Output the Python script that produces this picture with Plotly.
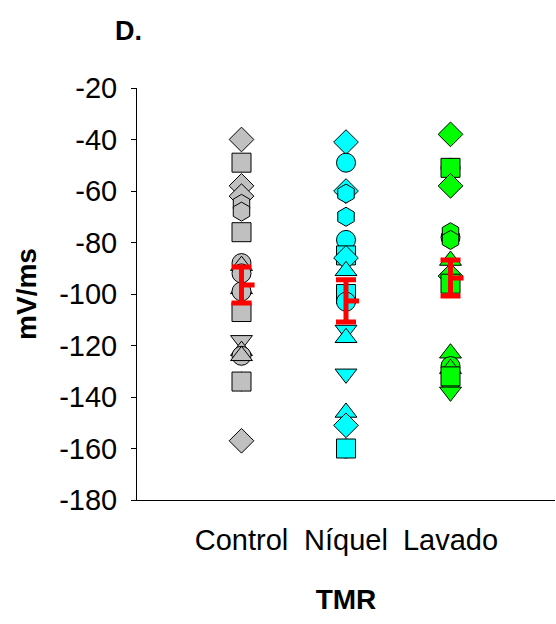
import plotly.graph_objects as go

categories = ["Control", "Níquel", "Lavado"]
cat_x = [1, 2, 3]

control_vals = [-40, -49, -58, -62, -65, -68, -76, -88, -89, -92, -98, -99, -107, -118, -122, -124, -124, -134, -134, -157]
control_syms = ["diamond", "square", "diamond", "diamond", "hexagon", "hexagon", "square", "circle", "triangle-up", "circle",
                "triangle-up", "circle", "square", "triangle-down", "triangle-up", "circle", "triangle-up", "hexagon", "square", "diamond"]

niquel_vals = [-41, -49, -60, -61, -70, -79, -85, -86, -91, -100, -103, -114, -117, -131, -146, -151, -160, -160]
niquel_syms = ["diamond", "circle", "diamond", "hexagon", "hexagon", "circle", "square", "diamond", "triangle-up", "square",
               "circle", "triangle-down", "triangle-up", "triangle-down", "triangle-up", "diamond", "circle", "square"]

lavado_vals = [-38, -51, -51, -58, -78, -76, -79, -87, -93, -96, -123, -128, -129, -135, -132, -138]
lavado_syms = ["diamond", "circle", "square", "diamond", "circle", "hexagon", "hexagon", "triangle-up", "diamond", "square",
               "triangle-up", "circle", "triangle-up", "hexagon", "square", "triangle-down"]

means = [-96.5, -102.7, -93.8]
sems = [7.0, 8.2, 7.0]

colors = ["#C0C0C0", "#00FFFF", "#00FF00"]
groups = [(control_vals, control_syms), (niquel_vals, niquel_syms), (lavado_vals, lavado_syms)]

y_ticks = [-20, -40, -60, -80, -100, -120, -140, -160, -180]
y_ticktext = [str(v) for v in y_ticks]  # plain hyphen-minus as in the original

FONT = "Arial, Liberation Sans, sans-serif"

fig = go.Figure()

for i, (vals, syms) in enumerate(groups):
    fig.add_trace(go.Scatter(
        x=[cat_x[i]] * len(vals), y=vals, mode="markers",
        marker=dict(symbol=syms, size=19, color=colors[i], line=dict(color="black", width=1)),
        showlegend=False, hoverinfo="y"))

# error bars (mean +/- SEM)
fig.add_trace(go.Scatter(
    x=cat_x, y=means, mode="markers",
    marker=dict(size=1, color="rgba(0,0,0,0)"),
    error_y=dict(type="data", array=sems, visible=True, color="#FF0000", thickness=5, width=10),
    showlegend=False, hoverinfo="skip"))

# mean tick to the right
mx, my = [], []
for xi, m in zip(cat_x, means):
    mx += [xi, xi + 0.125, None]
    my += [m, m, None]
fig.add_trace(go.Scatter(x=mx, y=my, mode="lines", line=dict(color="#FF0000", width=5),
                         showlegend=False, hoverinfo="skip"))

fig.update_layout(
    width=556, height=624,
    margin=dict(l=137, r=1, t=88, b=124),
    paper_bgcolor="white", plot_bgcolor="white",
    font=dict(family=FONT, size=28, color="black"),
    xaxis=dict(range=[0, 4], tickmode="array", tickvals=cat_x, ticktext=categories,
               showline=True, linecolor="black", linewidth=1, ticks="", showgrid=False, zeroline=False,
               tickfont=dict(size=29), ticklabelstandoff=14,
               title=dict(text="<b>TMR</b>", font=dict(size=28), standoff=34)),
    yaxis=dict(range=[-180, -20], tickmode="array", tickvals=y_ticks, ticktext=y_ticktext,
               showline=True, linecolor="black", linewidth=1, ticks="outside", ticklen=5, tickcolor="black",
               showgrid=False, zeroline=False, tickfont=dict(size=29), ticklabelstandoff=8,
               title=dict(text="<b>mV/ms</b>", font=dict(size=28), standoff=14)),
    annotations=[dict(text="<b>D.</b>", xref="paper", yref="paper", x=-0.021, y=1.138,
                      xanchor="center", yanchor="middle", showarrow=False, font=dict(size=27))],
)

fig.write_html("out.html")
